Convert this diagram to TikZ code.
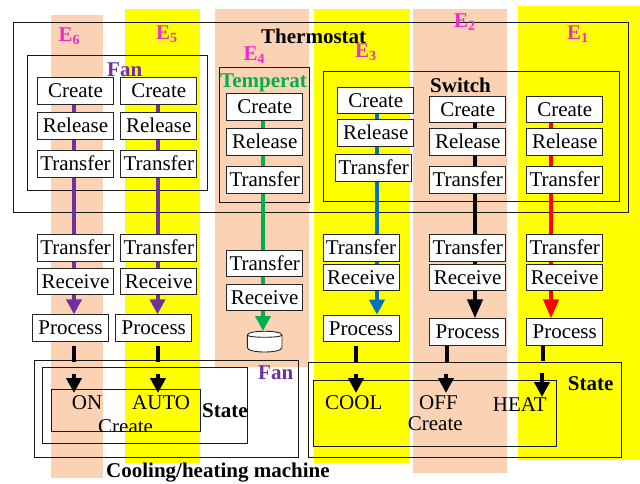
\documentclass[tikz,border=0pt]{standalone}
\usepackage{fontspec}
\setmainfont{Liberation Serif}
\usetikzlibrary{arrows.meta}
\definecolor{bandO}{HTML}{FBD2B4}
\definecolor{bandY}{HTML}{FFFF00}
\definecolor{cPurple}{HTML}{7030A0}
\definecolor{cGreen}{HTML}{00B050}
\definecolor{cBlue}{HTML}{0070C0}
\definecolor{cMag}{HTML}{EE2CC8}
\newcommand{\elab}[4]{\node[mag] (#1) at (#2,#3) {E\raisebox{-3pt}{\fontsize{14}{14}\selectfont #4}};}
\pgfdeclarelayer{front}\pgfsetlayers{main,front}
\tikzset{
  x=1pt,y=-1pt,
  stepbox/.style={draw=black!85,line width=0.9pt,fill=white,inner sep=0pt,minimum width=76pt,minimum height=26.4pt,
    font=\fontsize{21}{21}\selectfont,text height=16pt,text depth=2.6pt},
  frame/.style={draw=black!90,line width=0.9pt},
  bandA/.style={fill=bandO,draw=none},
  bandB/.style={fill=bandY,draw=none},
  txt/.style={anchor=base west,inner sep=0pt,font=\fontsize{21}{21}\selectfont},
  head/.style={anchor=base west,inner sep=0pt,font=\fontsize{21}{21}\selectfont\bfseries},
  mag/.style={anchor=base west,inner sep=0pt,text=cMag,font=\fontsize{21}{21}\selectfont\bfseries},
  link/.style={line width=4pt},
  tip/.style={-{Triangle[length=15pt,width=15pt]}},
  bigtip/.style={-{Triangle[length=19pt,width=15pt]}},
}
\begin{document}
\begin{tikzpicture}
\useasboundingbox (0,0) rectangle (640,483);
% bands
\fill[bandA] (51,15) rectangle (103,478);
\fill[bandB] (125,9) rectangle (200,463);
\fill[bandA] (215,9) rectangle (309,367);
\fill[bandB] (314,9) rectangle (410,463);
\fill[bandA] (413,9) rectangle (507,473);
\fill[bandB] (518,6) rectangle (640,460);
% containers
\draw[frame] (13.7,22.7) rectangle (628.7,212.7);
\draw[frame] (27,55.3) rectangle (207.7,190);
\draw[frame] (219,67.7) rectangle (309.7,202);
\draw[frame] (323.3,71.3) rectangle (619,201.3);
\draw[frame] (34.5,360.5) rectangle (298.5,457.5);
\draw[frame] (42.5,367.5) rectangle (247.5,443.5);
\node[frame,fill=none,inner sep=0pt,minimum width=149.5pt,minimum height=42.5pt] (sbL) at (125.75,410.25) {};
\draw[frame] (308.5,362.5) rectangle (621.5,457.5);
\node[frame,fill=none,inner sep=0pt,minimum width=243pt,minimum height=66pt] (sbR) at (435,413) {};
% column guides
\coordinate (L6) at (74,0); \coordinate (L5) at (157.5,0); \coordinate (L4) at (263,0);
\coordinate (L3) at (377,0); \coordinate (L2) at (475,0); \coordinate (L1) at (551,0);
\coordinate (dbtop) at (264.5,331);
% process-to-state free ends
\coordinate (s6a) at (74,346);  \coordinate (s6b) at (74,362);  \coordinate (h6a) at (74,374);  \coordinate (h6b) at (74,393);
\coordinate (s5a) at (158,346); \coordinate (s5b) at (158,362); \coordinate (h5a) at (158,374); \coordinate (h5b) at (158,393);
\coordinate (s3a) at (356,346); \coordinate (s3b) at (356,362); \coordinate (h3a) at (356,374); \coordinate (h3b) at (356,393);
\coordinate (s2a) at (447,345); \coordinate (s2b) at (447,362); \coordinate (h2a) at (446,374); \coordinate (h2b) at (446,393);
\coordinate (s1a) at (542.5,345); \coordinate (s1b) at (542.5,361); \coordinate (h1a) at (542,373); \coordinate (h1b) at (542,397);
\begin{pgfonlayer}{front}
\node[stepbox] (c6) at (75.5,91) {Create};
\node[stepbox] (e6) at (75.5,126) {Release};
\node[stepbox] (t6) at (75.5,164) {Transfer};
\node[stepbox] (u6) at (75.5,248) {Transfer};
\node[stepbox] (r6) at (75.5,281.3) {Receive};
\node[stepbox] (p6) at (70.5,328) {Process};
\node[stepbox] (c5) at (158.8,91) {Create};
\node[stepbox] (e5) at (158.8,126) {Release};
\node[stepbox] (t5) at (158.8,164) {Transfer};
\node[stepbox] (u5) at (158.8,248) {Transfer};
\node[stepbox] (r5) at (158.8,281.3) {Receive};
\node[stepbox] (p5) at (153.8,328) {Process};
\node[stepbox] (c4) at (264.7,107) {Create};
\node[stepbox] (e4) at (264.7,142) {Release};
\node[stepbox] (t4) at (264.7,180) {Transfer};
\node[stepbox] (u4) at (264.7,263.3) {Transfer};
\node[stepbox] (r4) at (264.7,297.3) {Receive};
\filldraw[draw=black!85,line width=0.9pt,fill=white] (247.3,335) -- (247.3,347.5) .. controls (247.3,353.5) and (282,353.5) .. (282,347.5) -- (282,335) .. controls (282,330) and (247.3,330) .. cycle;
\draw[black!85,line width=0.9pt] (247.3,335) .. controls (247.3,338) and (282,338) .. (282,335);
\node[stepbox] (c3) at (375.7,100.7) {Create};
\node[stepbox] (e3) at (375.7,133) {Release};
\node[stepbox] (t3) at (373.7,168) {Transfer};
\node[stepbox] (u3) at (361,248) {Transfer};
\node[stepbox] (r3) at (361,277.3) {Receive};
\node[stepbox] (p3) at (361,328.3) {Process};
\node[stepbox] (c2) at (467.7,109.7) {Create};
\node[stepbox] (e2) at (467.7,142) {Release};
\node[stepbox] (t2) at (467.7,180) {Transfer};
\node[stepbox] (u2) at (467.7,248) {Transfer};
\node[stepbox] (r2) at (467.7,277.3) {Receive};
\node[stepbox] (p2) at (467.7,332) {Process};
\node[stepbox] (c1) at (564.7,109.7) {Create};
\node[stepbox] (e1) at (564.7,142) {Release};
\node[stepbox] (t1) at (564.7,180) {Transfer};
\node[stepbox] (u1) at (564.7,248) {Transfer};
\node[stepbox] (r1) at (564.7,277.3) {Receive};
\node[stepbox] (p1) at (564.7,332) {Process};
% labels
\elab{lE6}{58.5}{41}{6}
\elab{lE5}{156}{39}{5}
\elab{lE4}{243.5}{60}{4}
\elab{lE3}{355}{57.7}{3}
\elab{lE2}{454}{27}{2}
\elab{lE1}{567}{39}{1}
\node[head] (lTh) at (261,43) {Thermostat};
\node[head,text=cPurple] (lFan) at (107,76) {Fan};
\node[head,text=cGreen] (lTe) at (220,87) {Temperat};
\node[head] (lSw) at (430,92) {Switch};
\node[head,text=cPurple] (lFan2) at (258,379) {Fan};
\node[head] (lSt) at (202,417.7) {State};
\node[head] (lSt2) at (567.7,390.7) {State};
\node[head] (lCh) at (106,477) {Cooling/heating machine};
\node[txt] (on) at (71.7,409) {ON};
\node[txt] (au) at (132,409) {AUTO};
\begin{scope}
\clip (sbL.south west) rectangle (sbL.north east);
\node[txt] (crL) at (98,433) {Create};
\end{scope}
\node[txt] (co) at (325,409) {COOL};
\node[txt] (of) at (419,409) {OFF};
\node[txt] (crR) at (407.7,430) {Create};
\node[txt] (he) at (492.7,411) {HEAT};
\end{pgfonlayer}
% connectors
\draw[link,cPurple] (c6.south -| L6) -- (r6.north -| L6);
\draw[link,cPurple,tip] (r6.south -| L6) -- (p6.north -| L6);
\draw[link,cPurple] (c5.south -| L5) -- (r5.north -| L5);
\draw[link,cPurple,tip] (r5.south -| L5) -- (p5.north -| L5);
\draw[link,cGreen] (c4.south -| L4) -- (r4.north -| L4);
\draw[link,cGreen,tip] (r4.south -| L4) -- (dbtop -| L4);
\draw[link,cBlue] (c3.south -| L3) -- (r3.north -| L3);
\draw[link,cBlue,tip] (r3.south -| L3) -- (p3.north -| L3);
\draw[link,black] (c2.south -| L2) -- (r2.north -| L2);
\draw[link,black,bigtip] (r2.south -| L2) -- (p2.north -| L2);
\draw[link,red] (c1.south -| L1) -- (r1.north -| L1);
\draw[link,red,bigtip] (r1.south -| L1) -- (p1.north -| L1);
\foreach \k in {6,5,3,2,1}{
  \draw[link,black] (s\k a) -- (s\k b);
  \draw[link,black,tip] (h\k a) -- (h\k b);
}
\end{tikzpicture}
\end{document}
